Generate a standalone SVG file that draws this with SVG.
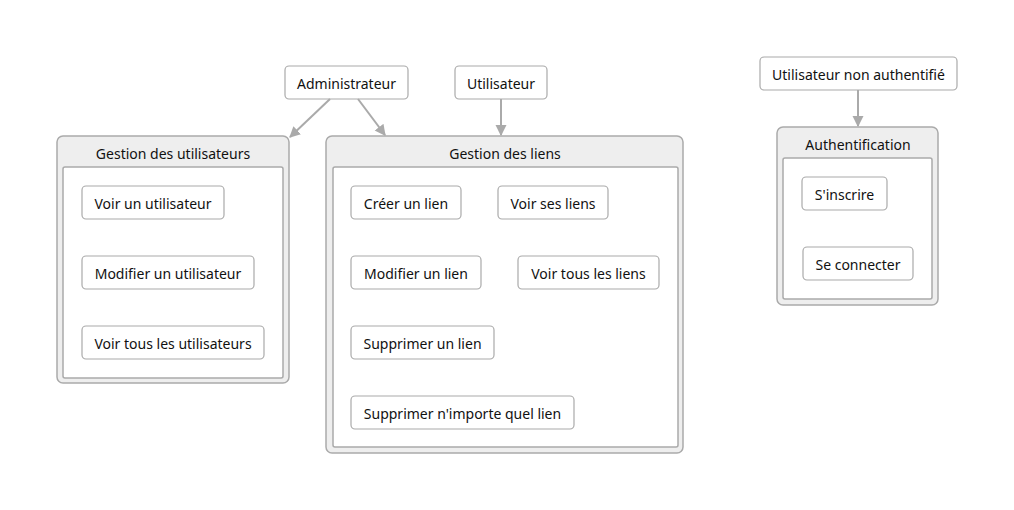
<svg xmlns="http://www.w3.org/2000/svg" width="1014" height="510" viewBox="0 0 1014 510">
<style>
text{font-family:"Segoe UI","Noto Sans","Open Sans",sans-serif;font-size:14px;fill:#111;text-anchor:middle;dominant-baseline:central}
.node{fill:#fff;stroke:#aaa;stroke-width:1.2}
.grp{fill:#eee;stroke:#aaa;stroke-width:1.5}
.inner{fill:#fff;stroke:#aaa;stroke-width:1.5}
.edge{stroke:#aaa;stroke-width:2;fill:none;marker-end:url(#arr)}
</style>
<defs>
<marker id="arr" viewBox="0 0 10 10" refX="9" refY="5" markerWidth="5.5" markerHeight="6" orient="auto" markerUnits="strokeWidth">
<path d="M0,0 L10,5 L0,10 z" fill="#aaa"/>
</marker>
</defs>
<rect width="1014" height="510" fill="#fff"/>
<g id="g-users">
<rect class="grp" x="57" y="136" width="232" height="247" rx="6"/>
<rect class="inner" x="63" y="167" width="220" height="211" rx="2"/>
<text x="173" y="153">Gestion des utilisateurs</text>
</g>
<g id="g-liens">
<rect class="grp" x="326" y="136" width="357" height="317" rx="6"/>
<rect class="inner" x="333" y="167" width="345" height="280" rx="2"/>
<text x="505" y="153">Gestion des liens</text>
</g>
<g id="g-auth">
<rect class="grp" x="777" y="127" width="161" height="178" rx="6"/>
<rect class="inner" x="783" y="158" width="149" height="141" rx="2"/>
<text x="858" y="144">Authentification</text>
</g>
<g id="n-admin"><rect class="node" x="285" y="66" width="123" height="33" rx="4"/><text x="346.5" y="83.5">Administrateur</text></g>
<g id="n-user"><rect class="node" x="455" y="66" width="92" height="33" rx="4"/><text x="501" y="83.5">Utilisateur</text></g>
<g id="n-anon"><rect class="node" x="760" y="57" width="197" height="33" rx="4"/><text x="858.5" y="74.5">Utilisateur non authentifié</text></g>
<g id="n-voir-user"><rect class="node" x="82" y="186" width="142" height="33" rx="4"/><text x="153" y="203.5">Voir un utilisateur</text></g>
<g id="n-mod-user"><rect class="node" x="82" y="256" width="172" height="33" rx="4"/><text x="168" y="273.5">Modifier un utilisateur</text></g>
<g id="n-tous-users"><rect class="node" x="82" y="326" width="182" height="33" rx="4"/><text x="173" y="343.5">Voir tous les utilisateurs</text></g>
<g id="n-creer"><rect class="node" x="351" y="186" width="110" height="33" rx="4"/><text x="406" y="203.5">Créer un lien</text></g>
<g id="n-voir-ses"><rect class="node" x="498" y="186" width="110" height="33" rx="4"/><text x="553" y="203.5">Voir ses liens</text></g>
<g id="n-mod-lien"><rect class="node" x="351" y="256" width="130" height="33" rx="4"/><text x="416" y="273.5">Modifier un lien</text></g>
<g id="n-tous-liens"><rect class="node" x="518" y="256" width="141" height="33" rx="4"/><text x="588.5" y="273.5">Voir tous les liens</text></g>
<g id="n-supp"><rect class="node" x="351" y="326" width="143" height="33" rx="4"/><text x="422.5" y="343.5">Supprimer un lien</text></g>
<g id="n-supp-all"><rect class="node" x="351" y="396" width="223" height="33" rx="4"/><text x="462.5" y="413.5">Supprimer n'importe quel lien</text></g>
<g id="n-inscrire"><rect class="node" x="802" y="177" width="85" height="33" rx="4"/><text x="844.5" y="194.5">S'inscrire</text></g>
<g id="n-connect"><rect class="node" x="803" y="247" width="110" height="33" rx="4"/><text x="858" y="264.5">Se connecter</text></g>
<g id="edges">
<line class="edge" x1="330" y1="99" x2="290" y2="137"/>
<line class="edge" x1="358" y1="99" x2="385" y2="135"/>
<line class="edge" x1="501" y1="99" x2="501" y2="135"/>
<line class="edge" x1="858" y1="90" x2="858" y2="126"/>
</g>
</svg>
